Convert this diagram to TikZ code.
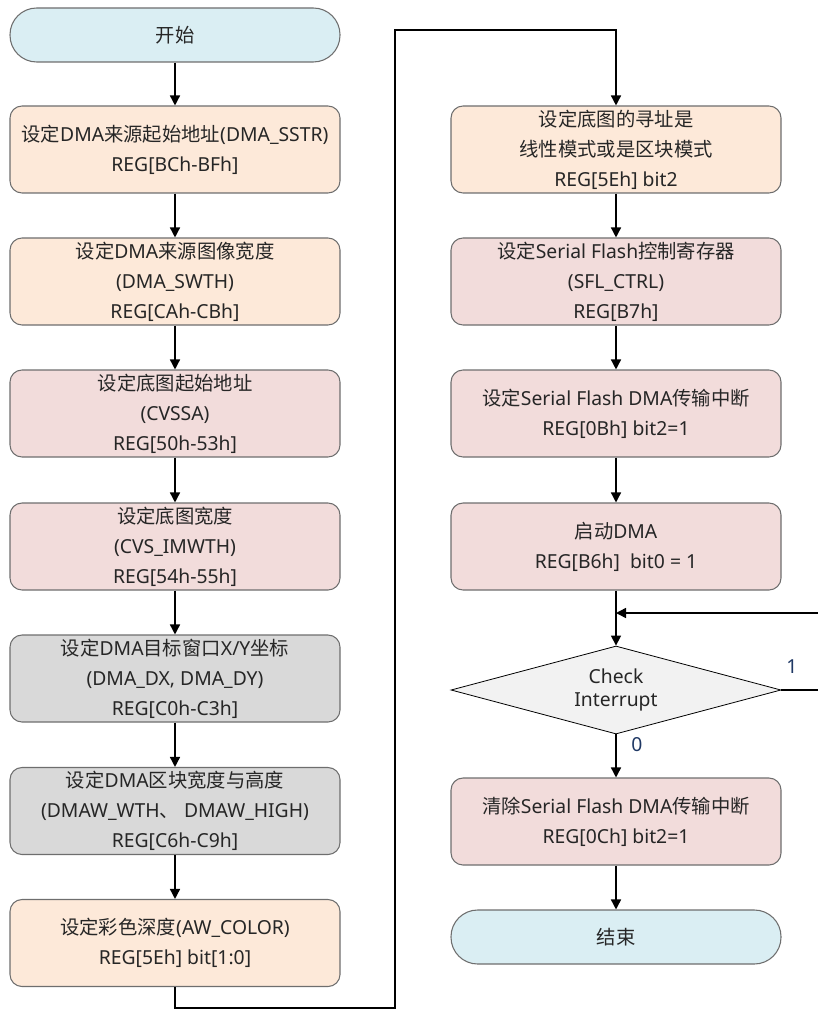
\documentclass[tikz,border=0pt]{standalone}
\usepackage{fontspec}
\setmainfont{Noto Sans}
\newfontfamily\cjk{Noto Sans CJK SC}
\usetikzlibrary{shapes.geometric,arrows.meta}
\definecolor{peach}{RGB}{253,233,217}
\definecolor{pinkf}{RGB}{242,220,219}
\definecolor{grayf}{RGB}{217,217,217}
\definecolor{bluef}{RGB}{218,238,243}
\definecolor{diaf}{RGB}{242,242,242}
\definecolor{bord}{RGB}{110,110,110}
\definecolor{txt}{RGB}{38,38,38}
\definecolor{lblc}{RGB}{31,56,100}
\tikzset{
  procbox/.style={draw=bord, line width=0.8pt, rounded corners=9pt, minimum width=247.5pt, minimum height=65.25pt, align=center, inner sep=0pt, text=txt, font=\fontsize{14.5}{22.5}\selectfont},
  pill/.style={draw=bord, line width=0.8pt, rounded corners=20pt, minimum width=247.5pt, minimum height=40.5pt, fill=bluef, inner sep=0pt, text=txt, font=\fontsize{14.5}{22.5}\selectfont},
  decis/.style={diamond, draw=black, line width=0.6pt, fill=diaf, aspect=3.75, minimum width=247.5pt, minimum height=66pt, inner sep=0pt, align=center, text=txt, font=\fontsize{14.5}{17.5}\selectfont},
  flow/.style={line width=1.1pt, -{Triangle[length=7.5pt,width=7.5pt]}},
  lbl/.style={text=lblc, font=\fontsize{14.5}{16}\selectfont}
}
\begin{document}
\begin{tikzpicture}[x=0.75pt,y=-0.75pt]
\useasboundingbox (0,0) rectangle (817,1012);
% left column
\node[pill] (start) at (175,35) {{\cjk 开始}};
\node[procbox, fill=peach] (b1) at (175,149.5) {{\cjk 设定}DMA{\cjk 来源起始地址}(DMA\_SSTR)\\REG[BCh-BFh]};
\node[procbox, fill=peach] (b2) at (175,281.5) {{\cjk 设定}DMA{\cjk 来源图像宽度}\\(DMA\_SWTH)\\REG[CAh-CBh]};
\node[procbox, fill=pinkf] (b3) at (175,413.5) {{\cjk 设定底图起始地址}\\(CVSSA)\\REG[50h-53h]};
\node[procbox, fill=pinkf] (b4) at (175,546.5) {{\cjk 设定底图宽度}\\(CVS\_IMWTH)\\REG[54h-55h]};
\node[procbox, fill=grayf] (b5) at (175,678.5) {{\cjk 设定}DMA{\cjk 目标窗口}X/Y{\cjk 坐标}\\(DMA\_DX, DMA\_DY)\\REG[C0h-C3h]};
\node[procbox, fill=grayf] (b6) at (175,811) {{\cjk 设定}DMA{\cjk 区块宽度与高度}\\(DMAW\_WTH{\cjk 、} DMAW\_HIGH)\\REG[C6h-C9h]};
\node[procbox, fill=peach] (b7) at (175,943) {{\cjk 设定彩色深度}(AW\_COLOR)\\REG[5Eh] bit[1:0]};
% right column
\node[procbox, fill=peach] (r1) at (616,149.5) {{\cjk 设定底图的寻址是}\\{\cjk 线性模式或是区块模式}\\REG[5Eh] bit2};
\node[procbox, fill=pinkf] (r2) at (616,281.5) {{\cjk 设定}Serial Flash{\cjk 控制寄存器}\\(SFL\_CTRL)\\REG[B7h]};
\node[procbox, fill=pinkf] (r3) at (616,413.5) {{\cjk 设定}Serial Flash DMA{\cjk 传输中断}\\REG[0Bh] bit2=1};
\node[procbox, fill=pinkf] (r4) at (616,546.5) {{\cjk 启动}DMA\\REG[B6h]\ \ bit0 = 1};
\node[decis] (dia) at (616,690) {Check\\Interrupt};
\node[procbox, fill=pinkf] (r5) at (616,821.5) {{\cjk 清除}Serial Flash DMA{\cjk 传输中断}\\REG[0Ch] bit2=1};
\node[pill] (stop) at (616,937) {{\cjk 结束}};
% connectors
\draw[flow] (start) -- (b1);
\draw[flow] (b1) -- (b2);
\draw[flow] (b2) -- (b3);
\draw[flow] (b3) -- (b4);
\draw[flow] (b4) -- (b5);
\draw[flow] (b5) -- (b6);
\draw[flow] (b6) -- (b7);
\coordinate (c1) at (395,1008);
\coordinate (c2) at (395,30);
\draw[flow] (b7.south) |- (c1) -- (c2) -| (r1.north);
\draw[flow] (r1) -- (r2);
\draw[flow] (r2) -- (r3);
\draw[flow] (r3) -- (r4);
\draw[flow] (r4) -- (dia);
\coordinate (l1) at (824,690);
\coordinate (l2) at (824,613);
\draw[flow] (dia.east) -- (l1) -- (l2) -- (l2 -| r4.south);
\draw[flow] (dia) -- (r5);
\draw[flow] (r5) -- (stop);
\node[lbl] (one) at (792,667) {1};
\node[lbl] (zero) at (637,745) {0};
\end{tikzpicture}
\end{document}
